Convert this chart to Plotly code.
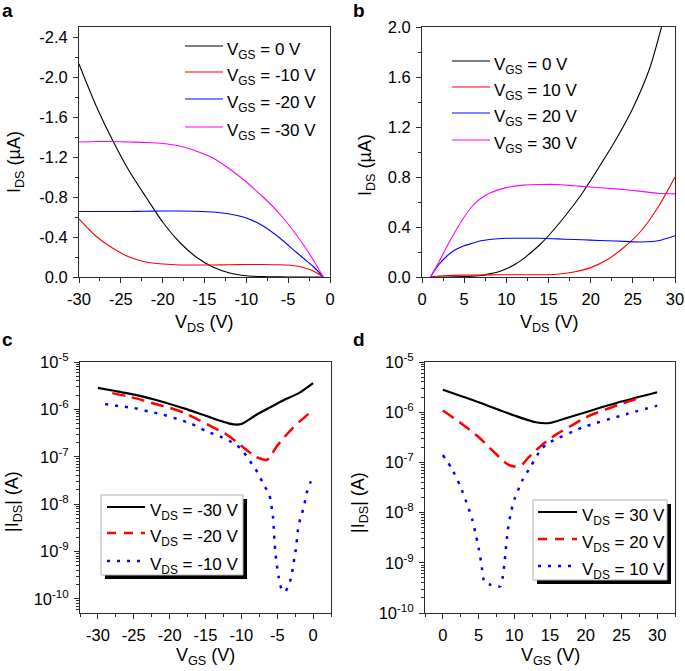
import plotly.graph_objects as go

# ---------------- data ----------------
# (a) output curves, negative V_DS (I_DS in µA)
a_vds = [-30, -28, -26, -24, -22, -20, -18, -16, -14, -12, -10, -8, -6, -4, -3, -2, -0.8]
a_ids_vgs_0 = [-2.13, -1.72, -1.37, -1.06, -0.80, -0.55, -0.35, -0.20, -0.10, -0.04, -0.012, -0.004, -0.001, 0, 0, 0, 0]
a_ids_vgs_m10 = [-0.58, -0.41, -0.29, -0.20, -0.15, -0.13, -0.12, -0.12, -0.12, -0.122, -0.125, -0.125, -0.122, -0.11, -0.09, -0.06, 0]
a_ids_vgs_m20 = [-0.655, -0.655, -0.655, -0.655, -0.658, -0.66, -0.66, -0.658, -0.65, -0.63, -0.59, -0.51, -0.39, -0.245, -0.175, -0.105, 0]
a_ids_vgs_m30 = [-1.35, -1.355, -1.355, -1.35, -1.345, -1.335, -1.31, -1.26, -1.19, -1.08, -0.95, -0.80, -0.63, -0.42, -0.30, -0.17, 0]
a_labels = ["V<sub>GS</sub> = 0 V", "V<sub>GS</sub> = -10 V", "V<sub>GS</sub> = -20 V", "V<sub>GS</sub> = -30 V"]

# (b) output curves, positive V_DS (I_DS in µA)
b_vds_vgs_0 = [1, 3, 5, 7, 8, 9, 10, 11, 12, 13, 14, 15, 17, 19, 21, 23, 25, 27, 28.4]
b_ids_vgs_0 = [0, 0, 0.003, 0.012, 0.025, 0.04, 0.065, 0.10, 0.145, 0.20, 0.26, 0.33, 0.49, 0.67, 0.88, 1.10, 1.35, 1.67, 2.0]
b_vds_vgs_10 = [1, 2, 3, 5, 8, 11, 14, 16, 18, 20, 22, 24, 26, 28, 30]
b_ids_vgs_10 = [0, 0.008, 0.012, 0.015, 0.017, 0.018, 0.018, 0.022, 0.04, 0.075, 0.14, 0.24, 0.37, 0.56, 0.80]
b_vds_vgs_20 = [1, 2, 3, 4, 5, 6, 7, 8, 10, 12, 14, 16, 18, 20, 22, 24, 26, 28, 30]
b_ids_vgs_20 = [0, 0.10, 0.17, 0.22, 0.25, 0.27, 0.29, 0.30, 0.31, 0.31, 0.31, 0.305, 0.30, 0.295, 0.29, 0.285, 0.28, 0.29, 0.33]
b_vds_vgs_30 = [1, 2, 3, 4, 5, 6, 7, 8, 10, 12, 14, 16, 18, 20, 23, 26, 28, 30]
b_ids_vgs_30 = [0, 0.12, 0.25, 0.37, 0.48, 0.57, 0.63, 0.67, 0.715, 0.735, 0.74, 0.74, 0.73, 0.72, 0.705, 0.685, 0.67, 0.665]
b_labels = ["V<sub>GS</sub> = 0 V", "V<sub>GS</sub> = 10 V", "V<sub>GS</sub> = 20 V", "V<sub>GS</sub> = 30 V"]

# (c) transfer curves, negative V_DS (|I_DS| in A)
c_vgs_vds_m30 = [-30, -28, -26, -24, -22, -20, -18, -16, -14, -12, -11, -10, -9, -8, -6, -4, -2, 0]
c_ids_vds_m30 = [2.85e-6, 2.5e-6, 2.2e-6, 1.9e-6, 1.6e-6, 1.3e-6, 1.05e-6, 8.3e-7, 6.5e-7, 5.2e-7, 4.8e-7, 4.9e-7, 6.0e-7, 7.5e-7, 1.1e-6, 1.6e-6, 2.2e-6, 3.6e-6]
c_vgs_vds_m20 = [-28, -26, -24, -22, -20, -18, -16, -14, -12, -10, -8, -7, -6.5, -6, -5, -4, -3, -2, -1, 0]
c_ids_vds_m20 = [2.2e-6, 1.9e-6, 1.6e-6, 1.3e-6, 1.08e-6, 8.5e-7, 6.0e-7, 4.2e-7, 2.9e-7, 1.7e-7, 1.0e-7, 8.8e-8, 8.5e-8, 1.0e-7, 1.7e-7, 2.6e-7, 3.8e-7, 5.3e-7, 7.2e-7, 9.6e-7]
c_vgs_vds_m10 = [-29, -27, -25, -23, -21, -19, -17, -15, -13, -11, -10, -9, -8, -7, -6.07, -5.6, -5.45, -5.3, -5.1, -4.8, -4.4, -3.9, -3.3, -2.95, -2.7, -2.4, -2.1, -1.8, -1.3, -0.9, -0.4, 0]
c_ids_vds_m10 = [1.29e-6, 1.17e-6, 1.07e-6, 9.1e-7, 7.8e-7, 6.3e-7, 5.0e-7, 3.5e-7, 2.7e-7, 1.9e-7, 1.45e-7, 8.9e-8, 5.4e-8, 2.8e-8, 1.5e-8, 5.6e-9, 2.5e-9, 1.1e-9, 5.9e-10, 2.9e-10, 1.6e-10, 1.4e-10, 2.1e-10, 3.4e-10, 5.9e-10, 1.1e-9, 2.9e-9, 4.8e-9, 8.5e-9, 1.7e-8, 2.8e-8, 3.9e-8]
c_labels = ["V<sub>DS</sub> = -30 V", "V<sub>DS</sub> = -20 V", "V<sub>DS</sub> = -10 V"]

# (d) transfer curves, positive V_DS (|I_DS| in A)
d_vgs_vds_30 = [0, 5, 10, 13, 15, 17, 20, 25, 30]
d_ids_vds_30 = [2.8e-6, 1.58e-6, 8.6e-7, 6.3e-7, 6.1e-7, 7.4e-7, 1.0e-6, 1.63e-6, 2.5e-6]
d_vgs_vds_20 = [0, 3, 5, 7, 9, 10, 11, 12, 14, 16, 18, 20, 25, 28]
d_ids_vds_20 = [1.08e-6, 5.4e-7, 3.2e-7, 1.7e-7, 9.3e-8, 8.3e-8, 8.8e-8, 1.26e-7, 2.3e-7, 3.7e-7, 5.4e-7, 7.9e-7, 1.47e-6, 2.0e-6]
d_vgs_vds_10 = [0, 1.17, 2.43, 3.5, 4.1, 4.67, 5.04, 5.37, 5.83, 6.53, 7.47, 8.07, 8.4, 8.63, 9.1, 9.57, 10.03, 11.1, 12.37, 13.77, 14.93, 19.6, 25, 30]
d_ids_vds_10 = [1.4e-7, 7.9e-8, 3.4e-8, 1.35e-8, 7.4e-9, 3.4e-9, 1.85e-9, 1.0e-9, 4.0e-10, 3.7e-10, 3.4e-10, 3.4e-10, 5.4e-10, 1.0e-9, 4.6e-9, 1.07e-8, 1.85e-8, 4.3e-8, 8.6e-8, 1.85e-7, 2.5e-7, 5.0e-7, 8.6e-7, 1.35e-6]
d_labels = ["V<sub>DS</sub> = 30 V", "V<sub>DS</sub> = 20 V", "V<sub>DS</sub> = 10 V"]

# tick labels
a_xtick_vals = [-30, -25, -20, -15, -10, -5, 0]
a_xtick_text = ["-30", "-25", "-20", "-15", "-10", "-5", "0"]
a_ytick_vals = [0, -0.4, -0.8, -1.2, -1.6, -2.0, -2.4]
a_ytick_text = ["0.0", "-0.4", "-0.8", "-1.2", "-1.6", "-2.0", "-2.4"]
b_xtick_vals = [0, 5, 10, 15, 20, 25, 30]
b_xtick_text = ["0", "5", "10", "15", "20", "25", "30"]
b_ytick_vals = [0, 0.4, 0.8, 1.2, 1.6, 2.0]
b_ytick_text = ["0.0", "0.4", "0.8", "1.2", "1.6", "2.0"]
c_xtick_vals = [-30, -25, -20, -15, -10, -5, 0]
c_xtick_text = ["-30", "-25", "-20", "-15", "-10", "-5", "0"]
d_xtick_vals = [0, 5, 10, 15, 20, 25, 30]
d_xtick_text = ["0", "5", "10", "15", "20", "25", "30"]
log_tick_vals = [1e-10, 1e-9, 1e-8, 1e-7, 1e-6, 1e-5]
log_tick_text = ["10<sup>-10</sup>", "10<sup>-9</sup>", "10<sup>-8</sup>", "10<sup>-7</sup>",
                 "10<sup>-6</sup>", "10<sup>-5</sup>"]

# ---------------- layout helpers ----------------
W, H = 685, 671
FONT = "Arial, Liberation Sans, Helvetica, sans-serif"
FRAME = "#2a2a2a"
RED, BLUE, BLACK, MAGENTA = "#ff0000", "#0000ff", "#000000", "#ff00ff"


def px(x):
    return x / W


def py(y):
    return 1 - y / H


# panel boxes in pixels: (left, right, top, bottom)
PANEL = {
    "a": (79, 330, 27, 277),
    "b": (422, 675, 27, 277),
    "c": (80, 331, 362, 613),
    "d": (425, 675, 362, 613),
}

common = dict(showline=True, linecolor=FRAME, linewidth=1, mirror=True,
              ticks="outside", ticklen=5, tickwidth=1, tickcolor=FRAME,
              showgrid=False, zeroline=False, automargin=False, ticklabelstandoff=2,
              tickfont=dict(size=16.5, color="black", family=FONT))


def minor(dtick, tick0=0):
    return dict(ticks="outside", ticklen=3, tickwidth=1, tickcolor=FRAME,
                dtick=dtick, tick0=tick0, showgrid=False)


log_minor_vals = [k * 10.0 ** e for e in range(-11, -4) for k in range(2, 10)]
log_minor = dict(ticks="outside", ticklen=3, tickwidth=1, tickcolor=FRAME,
                 tickmode="array", tickvals=log_minor_vals, showgrid=False)

fig = go.Figure()


def add(x, y, color, width, ax, dash="solid", smoothing=0.7):
    fig.add_trace(go.Scatter(x=x, y=y, mode="lines", showlegend=False, hoverinfo="skip",
                             line=dict(color=color, width=width, dash=dash,
                                       shape="spline", smoothing=smoothing),
                             xaxis="x" + ax, yaxis="y" + ax))


DASH = "13px,7px"
DOT = "3px,7px"

# panel a
add(a_vds, a_ids_vgs_0, BLACK, 1.1, "")
add(a_vds, a_ids_vgs_m10, RED, 1.1, "")
add(a_vds, a_ids_vgs_m20, BLUE, 1.1, "")
add(a_vds, a_ids_vgs_m30, MAGENTA, 1.1, "")
# panel b
add(b_vds_vgs_0, b_ids_vgs_0, BLACK, 1.1, "2")
add(b_vds_vgs_10, b_ids_vgs_10, RED, 1.1, "2")
add(b_vds_vgs_20, b_ids_vgs_20, BLUE, 1.1, "2")
add(b_vds_vgs_30, b_ids_vgs_30, MAGENTA, 1.1, "2")
# panel c
add(c_vgs_vds_m30, c_ids_vds_m30, BLACK, 2.2, "3")
add(c_vgs_vds_m20, c_ids_vds_m20, RED, 2.5, "3", DASH)
add(c_vgs_vds_m10, c_ids_vds_m10, BLUE, 2.5, "3", DOT, 0.5)
# panel d
add(d_vgs_vds_30, d_ids_vds_30, BLACK, 2.2, "4")
add(d_vgs_vds_20, d_ids_vds_20, RED, 2.5, "4", DASH)
add(d_vgs_vds_10, d_ids_vds_10, BLUE, 2.5, "4", DOT, 0.5)


def dom(p):
    l, r, t, b = PANEL[p]
    return [px(l), px(r)], [py(b), py(t)]


xa, ya = dom("a")
xb, yb = dom("b")
xc, yc = dom("c")
xd, yd = dom("d")

layout = dict(
    width=W, height=H, margin=dict(l=0, r=0, t=0, b=0),
    paper_bgcolor="white", plot_bgcolor="white",
    font=dict(family=FONT, color="black"),
    xaxis=dict(domain=xa, anchor="y", range=[-30, 0], tickmode="array",
               tickvals=a_xtick_vals, ticktext=a_xtick_text, minor=minor(2.5), **common),
    yaxis=dict(domain=ya, anchor="x", range=[0, -2.5], tickmode="array",
               tickvals=a_ytick_vals, ticktext=a_ytick_text, minor=minor(0.2), **common),
    xaxis2=dict(domain=xb, anchor="y2", range=[0, 30], tickmode="array",
                tickvals=b_xtick_vals, ticktext=b_xtick_text, minor=minor(2.5), **common),
    yaxis2=dict(domain=yb, anchor="x2", range=[0, 2.0], tickmode="array",
                tickvals=b_ytick_vals, ticktext=b_ytick_text, minor=minor(0.2), **common),
    xaxis3=dict(domain=xc, anchor="y3", range=[-32.5, 2.5], tickmode="array",
                tickvals=c_xtick_vals, ticktext=c_xtick_text, minor=minor(2.5), **common),
    yaxis3=dict(domain=yc, anchor="x3", type="log", range=[-10.3, -5], tickmode="array",
                tickvals=log_tick_vals, ticktext=log_tick_text, minor=log_minor, **common),
    xaxis4=dict(domain=xd, anchor="y4", range=[-2.5, 32.5], tickmode="array",
                tickvals=d_xtick_vals, ticktext=d_xtick_text, minor=minor(2.5), **common),
    yaxis4=dict(domain=yd, anchor="x4", type="log", range=[-10, -5], tickmode="array",
                tickvals=log_tick_vals, ticktext=log_tick_text, minor=log_minor, **common),
)
fig.update_layout(**layout)

annotations = []
shapes = []


def text(x, y, s, size, xanchor="center", yanchor="middle", angle=0):
    annotations.append(dict(xref="paper", yref="paper", x=px(x), y=py(y), text=s,
                            showarrow=False, xanchor=xanchor, yanchor=yanchor,
                            textangle=angle, font=dict(size=size, family=FONT, color="black")))


# panel letters
for letter, (lx, ly) in {"a": (0, 23), "b": (351, 23), "c": (0, 352), "d": (351, 352)}.items():
    text(lx, ly, "<b>%s</b>" % letter, 19, xanchor="left", yanchor="bottom")

# axis titles
text(204.5, 323, "V<sub>DS</sub> (V)", 18)
text(549, 323, "V<sub>DS</sub> (V)", 18)
text(205.5, 656, "V<sub>GS</sub> (V)", 18)
text(550.5, 656, "V<sub>GS</sub> (V)", 18)
text(15, 162, "I<sub>DS</sub> (µA)", 18, angle=-90)
text(366, 165, "I<sub>DS</sub> (µA)", 18, angle=-90)
text(14, 502, "|I<sub>DS</sub>| (A)", 18, angle=-90)
text(359, 503, "|I<sub>DS</sub>| (A)", 18, angle=-90)


def legend_line(x0, x1, y, color, width, dash="solid"):
    shapes.append(dict(type="line", xref="paper", yref="paper", x0=px(x0), x1=px(x1),
                       y0=py(y), y1=py(y), line=dict(color=color, width=width, dash=dash),
                       layer="above"))


def legend_box(l, t, r, b):
    shapes.append(dict(type="rect", xref="paper", yref="paper", x0=px(l + 4), x1=px(r + 4),
                       y0=py(b + 4), y1=py(t + 4), fillcolor="black",
                       line=dict(width=0), layer="above"))
    shapes.append(dict(type="rect", xref="paper", yref="paper", x0=px(l), x1=px(r),
                       y0=py(b), y1=py(t), fillcolor="white",
                       line=dict(color="#b0b0b0", width=1), layer="above"))


# legend a
for lab, col, yy in zip(a_labels, [BLACK, RED, BLUE, MAGENTA], [46, 72, 99, 127]):
    legend_line(185, 223, yy, col, 1.1)
    text(225, yy + 5, lab, 17, xanchor="left")
# legend b
for lab, col, yy in zip(b_labels, [BLACK, RED, BLUE, MAGENTA], [61, 87, 113, 140]):
    legend_line(452, 490, yy, col, 1.1)
    text(492, yy + 5, lab, 17, xanchor="left")
# legend c
legend_box(101, 495, 243, 575)
for lab, col, w, dsh, yy in zip(c_labels, [BLACK, RED, BLUE], [2.2, 2.5, 2.5],
                                ["solid", "9px,8px", DOT], [507, 533, 561]):
    legend_line(107, 145, yy, col, w, dsh)
    text(148, yy + 5, lab, 17, xanchor="left")
# legend d
legend_box(533, 500, 667, 580)
for lab, col, w, dsh, yy in zip(d_labels, [BLACK, RED, BLUE], [2.2, 2.5, 2.5],
                                ["solid", "9px,8px", DOT], [512, 539, 566]):
    legend_line(538, 577, yy, col, w, dsh)
    text(580, yy + 5, lab, 17, xanchor="left")

fig.update_layout(annotations=annotations, shapes=shapes)
fig.write_html("out.html", config={"displayModeBar": False},
               post_script="document.body.style.margin='0px';document.body.style.padding='0px';")
